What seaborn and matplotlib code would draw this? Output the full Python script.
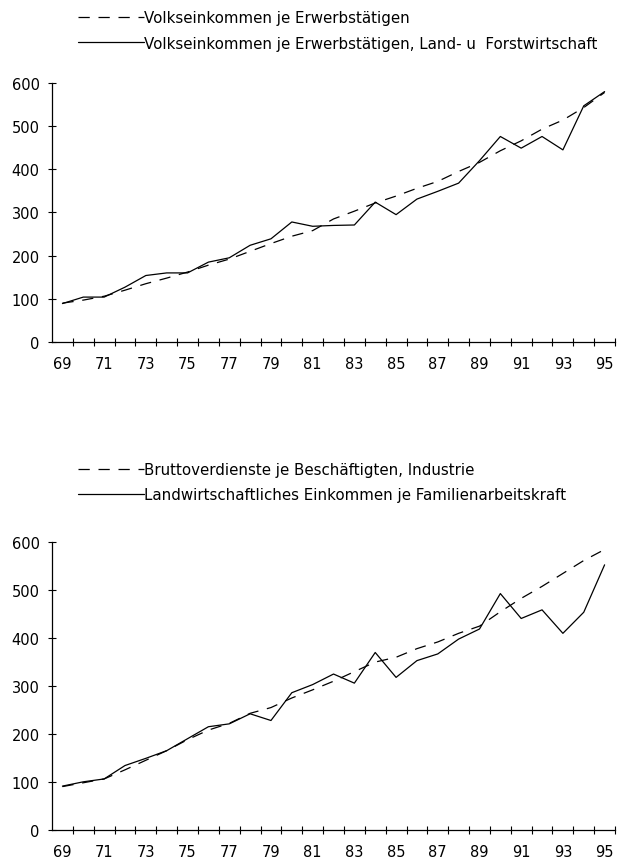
import numpy as np
import pandas as pd
import seaborn as sns
import matplotlib.pyplot as plt
from matplotlib.ticker import FixedLocator

# Years 1969-1995 (two-digit labels as in the source)
years = list(range(69, 96))

# Upper panel
volk_erwerb = [90, 97, 106, 120, 135, 148, 162, 178, 192, 210, 228, 245, 258,
               285, 303, 322, 338, 356, 372, 395, 416, 443, 466, 493, 514, 543, 578]
volk_landforst = [89, 104, 104, 127, 154, 160, 160, 185, 195, 224, 239, 278, 268,
                  270, 271, 324, 295, 331, 349, 368, 420, 476, 449, 476, 445, 547, 580]

# Lower panel
brutto_industrie = [90, 98, 106, 125, 145, 165, 188, 208, 222, 243, 255, 275, 292,
                    310, 330, 350, 360, 378, 392, 410, 425, 455, 483, 508, 535, 562, 585]
lw_einkommen = [91, 100, 106, 134, 149, 165, 190, 215, 221, 242, 228, 286, 303,
                325, 306, 370, 318, 353, 367, 398, 419, 493, 441, 459, 410, 454, 553]

panels = [
    ("Volkseinkommen je Erwerbstätigen", volk_erwerb,
     "Volkseinkommen je Erwerbstätigen, Land- u  Forstwirtschaft", volk_landforst),
    ("Bruttoverdienste je Beschäftigten, Industrie", brutto_industrie,
     "Landwirtschaftliches Einkommen je Familienarbeitskraft", lw_einkommen),
]

sns.set_style("white")
plt.rcParams['font.family'] = ['DejaVu Sans']
plt.rcParams['text.color'] = 'black'
plt.rcParams['xtick.color'] = 'black'
plt.rcParams['ytick.color'] = 'black'

fig = plt.figure(figsize=(6.17, 8.62), dpi=100)
# axes rectangles (left, bottom, width, height) and legend anchors
rects = [(0.0843, 0.6021, 0.9125, 0.3005), (0.0843, 0.0363, 0.9125, 0.3334)]
legend_anchor = [(0.126, 0.987), (0.126, 0.463)]

for (lab_d, vals_d, lab_s, vals_s), rect, anchor in zip(panels, rects, legend_anchor):
    ax = fig.add_axes(rect)
    df = pd.DataFrame({"year": years, "dashed": vals_d, "solid": vals_s})
    sns.lineplot(data=df, x="year", y="dashed", ax=ax, color="black",
                 linewidth=0.9, linestyle=(0, (9, 7)), label=lab_d)
    sns.lineplot(data=df, x="year", y="solid", ax=ax, color="black",
                 linewidth=0.9, label=lab_s)

    ax.set_xlim(68.5, 95.5)
    ax.set_ylim(0, 600)
    ax.set_xlabel("")
    ax.set_ylabel("")
    for s in ["top", "right"]:
        ax.spines[s].set_visible(False)
    for s in ["left", "bottom"]:
        ax.spines[s].set_color("black")
        ax.spines[s].set_linewidth(0.9)

    ax.set_yticks(range(0, 601, 100))
    ax.xaxis.set_major_locator(FixedLocator(list(range(69, 96, 2))))
    ax.set_xticklabels([str(y) for y in range(69, 96, 2)])
    ax.xaxis.set_minor_locator(FixedLocator([y + 0.5 for y in range(69, 96)]))
    ax.tick_params(axis="x", which="major", length=0, pad=10, labelsize=10.5,
                   labelcolor="black")
    ax.tick_params(axis="x", which="minor", direction="inout", length=6,
                   width=0.8, color="black", bottom=True)
    ax.tick_params(axis="y", which="major", direction="inout", length=6,
                   width=0.8, color="black", pad=6, labelsize=10.5, left=True,
                   labelcolor="black")

    handles, labels = ax.get_legend_handles_labels()
    ax.get_legend().remove()
    leg = fig.legend(handles, labels, loc="upper left", bbox_to_anchor=anchor,
                     frameon=False, fontsize=10.8, handlelength=4.4,
                     handletextpad=0.05, labelspacing=0.7, borderpad=0,
                     borderaxespad=0)
    for t in leg.get_texts():
        t.set_color("black")

fig.savefig("out.png", dpi=100)
